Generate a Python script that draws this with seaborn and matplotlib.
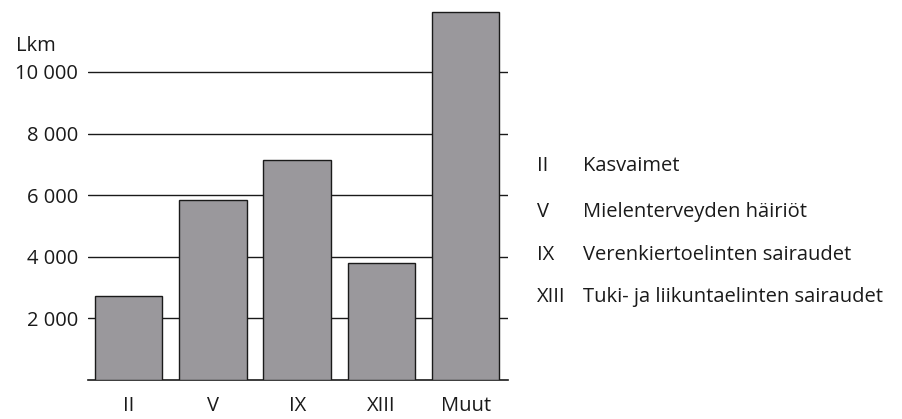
import matplotlib
matplotlib.use("Agg")
import matplotlib.pyplot as plt
import seaborn as sns
import pandas as pd

# data
categories = ["II", "V", "IX", "XIII", "Muut"]
counts = [2720, 5840, 7130, 3780, 11950]
yticks = [2000, 4000, 6000, 8000, 10000]
ytick_labels = ["2 000", "4 000", "6 000", "8 000", "10 000"]
key_codes = ["II", "V", "IX", "XIII"]
key_names = ["Kasvaimet", "Mielenterveyden häiriöt",
             "Verenkiertoelinten sairaudet", "Tuki- ja liikuntaelinten sairaudet"]

df = pd.DataFrame({"ryhma": categories, "lkm": counts})

sns.set_style("white")
plt.rcParams["font.family"] = ["Open Sans", "DejaVu Sans"]
txt = "#1a1a1a"
fs = 14.5

fig = plt.figure(figsize=(9.02, 4.19), dpi=100)
ax = fig.add_axes([0.0976, 0.094, 0.4655, 0.881])

sns.barplot(data=df, x="ryhma", y="lkm", color="#9a989c", edgecolor="#1a1a1a",
            linewidth=1.0, width=0.8, saturation=1, ax=ax, zorder=3)

ax.set_xlim(-0.48, 4.5)
ax.set_ylim(0, 12000)
ax.set_yticks(yticks)
ax.set_yticklabels(ytick_labels, fontsize=fs, color=txt)
ax.tick_params(axis="y", length=0, pad=7)
ax.tick_params(axis="x", length=0, pad=12, labelsize=fs, labelcolor=txt)
ax.yaxis.grid(True, color="#1a1a1a", linewidth=1.0)
ax.set_axisbelow(True)
ax.set_xlabel("")
ax.set_ylabel("")
for s in ["left", "right", "top"]:
    ax.spines[s].set_visible(False)
ax.spines["bottom"].set_color("#1a1a1a")
ax.spines["bottom"].set_linewidth(1.2)

fig.text(16 / 902, 1 - 46 / 419, "Lkm", fontsize=fs, color=txt, va="center", ha="left")

ys = [166, 212, 255, 297]
for code, name, y in zip(key_codes, key_names, ys):
    fig.text(537 / 902, 1 - y / 419, code, fontsize=fs, color=txt, va="center", ha="left")
    fig.text(583 / 902, 1 - y / 419, name, fontsize=fs, color=txt, va="center", ha="left")

fig.savefig("out.png", dpi=100)
